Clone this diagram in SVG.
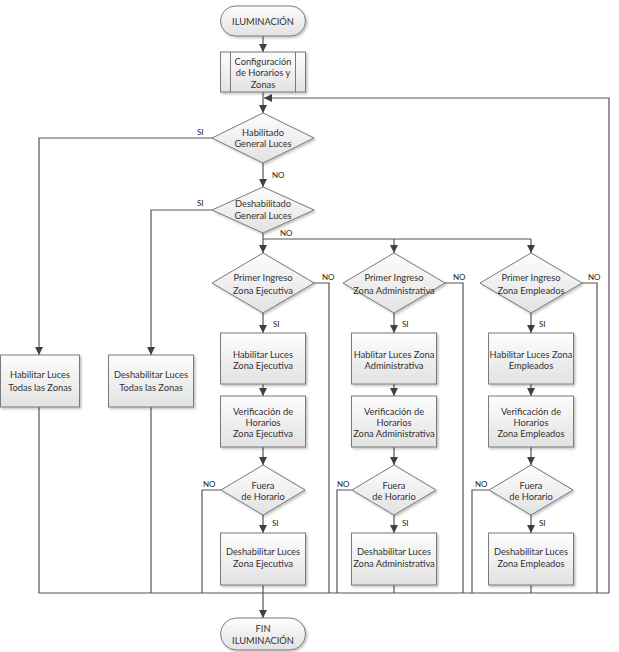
<svg xmlns="http://www.w3.org/2000/svg" width="619" height="652" viewBox="0 0 619 652">
<defs>
<linearGradient id="g" x1="0" y1="0" x2="0" y2="1"><stop offset="0" stop-color="#fdfdfd"/><stop offset="1" stop-color="#e2e2e2"/></linearGradient>
<filter id="sh" x="-10%" y="-10%" width="130%" height="130%"><feDropShadow dx="1.5" dy="1.5" stdDeviation="1" flood-color="#000" flood-opacity="0.25"/></filter>
<marker id="ar" markerWidth="8" markerHeight="8" refX="8" refY="4" orient="auto" markerUnits="userSpaceOnUse"><path d="M0,0 L8,4 L0,8 z" fill="#404040"/></marker>
</defs>
<style>
.n{fill:url(#g);stroke:#7a7a7a;stroke-width:1;filter:url(#sh)}
.t{font-family:Lato,"Liberation Sans",sans-serif;font-size:9.3px;fill:#333;text-anchor:middle}
.l{font-family:Lato,"Liberation Sans",sans-serif;font-size:8px;fill:#222}
.c{fill:none;stroke:#555;stroke-width:1.2}
.a{marker-end:url(#ar)}
</style>
<rect width="619" height="652" fill="#fff"/>
<g id="connectors">
<path class="c a" d="M263,36 V52"/>
<path class="c a" d="M263,92 V113"/>
<path class="c a" d="M609,593 V98 H264"/>
<path class="c a" d="M212,138 H39 V355"/>
<path class="c a" d="M263,163 V187"/>
<path class="c a" d="M212,210 H151 V355"/>
<path class="c a" d="M263,233 V253"/>
<path class="c" d="M263,239 H531"/>
<path class="c a" d="M394,239 V253"/>
<path class="c a" d="M531,239 V253"/>
<path class="c a" d="M263,313 V333"/>
<path class="c a" d="M394,313 V333"/>
<path class="c a" d="M531,313 V333"/>
<path class="c a" d="M263,384 V396"/>
<path class="c a" d="M394,384 V396"/>
<path class="c a" d="M531,384 V396"/>
<path class="c a" d="M263,447 V465"/>
<path class="c a" d="M394,447 V465"/>
<path class="c a" d="M531,447 V465"/>
<path class="c a" d="M263,515 V533"/>
<path class="c a" d="M394,515 V533"/>
<path class="c a" d="M531,515 V533"/>
<path class="c" d="M314,283 H329 V593"/>
<path class="c" d="M445,283 H463 V593"/>
<path class="c" d="M582,283 H597 V593"/>
<path class="c" d="M221,490 H202 V593"/>
<path class="c" d="M352,490 H337 V593"/>
<path class="c" d="M489,490 H472 V593"/>
<path class="c" d="M39,407 V593 H609"/>
<path class="c" d="M151,407 V593"/>
<path class="c" d="M394,585 V593"/>
<path class="c" d="M531,585 V593"/>
<path class="c a" d="M263,585 V618"/>
<text class="l" x="197" y="135">SI</text>
<text class="l" x="272" y="178">NO</text>
<text class="l" x="197" y="206">SI</text>
<text class="l" x="280" y="236">NO</text>
<text class="l" x="322" y="280">NO</text>
<text class="l" x="453" y="280">NO</text>
<text class="l" x="588" y="280">NO</text>
<text class="l" x="273" y="327">SI</text>
<text class="l" x="402" y="327">SI</text>
<text class="l" x="539" y="327">SI</text>
<text class="l" x="203" y="487">NO</text>
<text class="l" x="337" y="487">NO</text>
<text class="l" x="475" y="487">NO</text>
<text class="l" x="272" y="526">SI</text>
<text class="l" x="402" y="526">SI</text>
<text class="l" x="539" y="526">SI</text>
</g>
<g id="inicio"><rect class="n" x="220.5" y="6" width="85" height="30" rx="15"/><text class="t" x="263" y="24.5">ILUMINACIÓN</text></g>
<g id="configuracion"><rect class="n" x="220.5" y="52" width="85" height="40"/><path d="M230.5,52 V92 M295.5,52 V92" stroke="#7a7a7a" fill="none"/><text class="t" x="263" y="64.5">Configuración</text><text class="t" x="263" y="76">de Horarios y</text><text class="t" x="263" y="87.5">Zonas</text></g>
<g id="habilitado"><polygon class="n" points="263,113 314,138 263,163 212,138"/><text class="t" x="263" y="136">Habilitado</text><text class="t" x="263" y="147">General Luces</text></g>
<g id="deshabilitado"><polygon class="n" points="263,187 314,210 263,233 212,210"/><text class="t" x="263" y="206.5">Deshabilitado</text><text class="t" x="263" y="219">General Luces</text></g>
<g id="hab-todas"><rect class="n" x="0.5" y="355" width="79" height="52"/><text class="t" x="40" y="378">Habilitar Luces</text><text class="t" x="40" y="391">Todas las Zonas</text></g>
<g id="des-todas"><rect class="n" x="108.5" y="355" width="85" height="52"/><text class="t" x="151" y="378">Deshabilitar Luces</text><text class="t" x="151" y="391">Todas las Zonas</text></g>
<g id="primer-ejecutiva"><polygon class="n" points="263,253 314,283 263,313 212,283"/><text class="t" x="263" y="281">Primer Ingreso</text><text class="t" x="263" y="293.5">Zona Ejecutiva</text></g>
<g id="primer-administrativa"><polygon class="n" points="394,253 445,283 394,313 343,283"/><text class="t" x="394" y="281">Primer Ingreso</text><text class="t" x="394" y="293.5">Zona Administrativa</text></g>
<g id="primer-empleados"><polygon class="n" points="531,253 582,283 531,313 480,283"/><text class="t" x="531" y="281">Primer Ingreso</text><text class="t" x="531" y="293.5">Zona Empleados</text></g>
<g id="hab-ejecutiva"><rect class="n" x="220.5" y="333" width="85" height="51"/><text class="t" x="263" y="357.5">Habilitar  Luces</text><text class="t" x="263" y="369">Zona Ejecutiva</text></g>
<g id="hab-administrativa"><rect class="n" x="351.5" y="333" width="85" height="51"/><text class="t" x="394" y="357.5">Hablitar Luces Zona</text><text class="t" x="394" y="369">Administrativa</text></g>
<g id="hab-empleados"><rect class="n" x="488.5" y="333" width="85" height="51"/><text class="t" x="531" y="357.5">Habilitar Luces Zona</text><text class="t" x="531" y="369">Empleados</text></g>
<g id="ver-ejecutiva"><rect class="n" x="220.5" y="396" width="85" height="51"/><text class="t" x="263" y="414.5">Verificación de</text><text class="t" x="263" y="425.5">Horarios</text><text class="t" x="263" y="437">Zona Ejecutiva</text></g>
<g id="ver-administrativa"><rect class="n" x="351.5" y="396" width="85" height="51"/><text class="t" x="394" y="414.5">Verificación de</text><text class="t" x="394" y="425.5">Horarios</text><text class="t" x="394" y="437">Zona Administrativa</text></g>
<g id="ver-empleados"><rect class="n" x="488.5" y="396" width="85" height="51"/><text class="t" x="531" y="414.5">Verificación de</text><text class="t" x="531" y="425.5">Horarios</text><text class="t" x="531" y="437">Zona Empleados</text></g>
<g id="fuera-ejecutiva"><polygon class="n" points="263,465 305,490 263,515 221,490"/><text class="t" x="263" y="488.5">Fuera</text><text class="t" x="263" y="500">de Horario</text></g>
<g id="fuera-administrativa"><polygon class="n" points="394,465 436,490 394,515 352,490"/><text class="t" x="394" y="488.5">Fuera</text><text class="t" x="394" y="500">de Horario</text></g>
<g id="fuera-empleados"><polygon class="n" points="531,465 573,490 531,515 489,490"/><text class="t" x="531" y="488.5">Fuera</text><text class="t" x="531" y="500">de Horario</text></g>
<g id="des-ejecutiva"><rect class="n" x="220.5" y="533" width="85" height="52"/><text class="t" x="263" y="555">Deshabilitar Luces</text><text class="t" x="263" y="566.5">Zona Ejecutiva</text></g>
<g id="des-administrativa"><rect class="n" x="351.5" y="533" width="85" height="52"/><text class="t" x="394" y="555">Deshabilitar Luces</text><text class="t" x="394" y="566.5">Zona Administrativa</text></g>
<g id="des-empleados"><rect class="n" x="488.5" y="533" width="85" height="52"/><text class="t" x="531" y="555">Deshabilitar Luces</text><text class="t" x="531" y="566.5">Zona Empleados</text></g>
<g id="fin"><rect class="n" x="220.5" y="618" width="85" height="32" rx="16"/><text class="t" x="263" y="632">FIN</text><text class="t" x="263" y="644">ILUMINACIÓN</text></g>
</svg>
